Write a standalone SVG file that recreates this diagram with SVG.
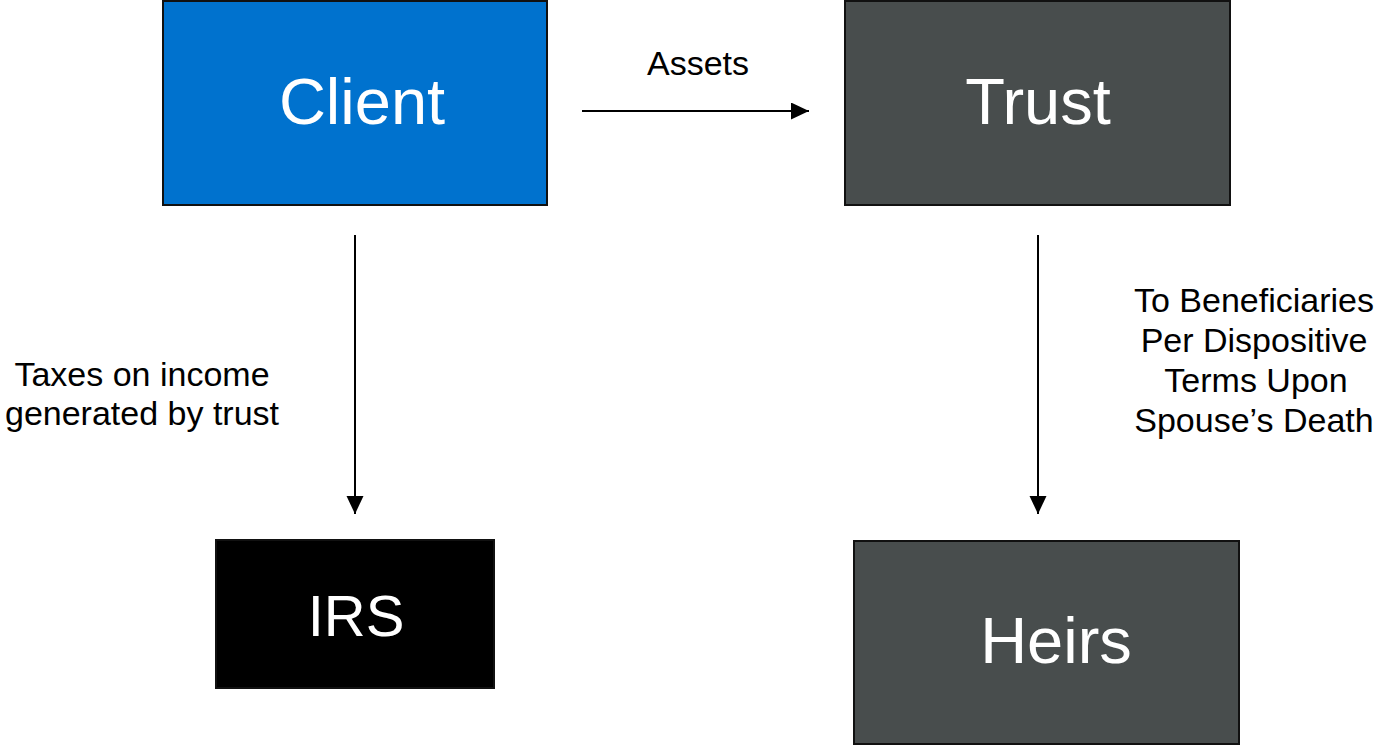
<svg xmlns="http://www.w3.org/2000/svg" width="1381" height="747" viewBox="0 0 1381 747">
  <style>
    .box { stroke: #111111; stroke-width: 2; }
    .blue { fill: #0072CE; }
    .gray { fill: #484D4D; }
    .black { fill: #000000; }
    .nlabel { font-family: "Liberation Sans", Arial, sans-serif; fill: #FFFFFF; text-anchor: middle; font-size: 65px; }
    .elabel { font-family: "Liberation Sans", Arial, sans-serif; fill: #000000; text-anchor: middle; font-size: 34px; }
    .conn { stroke: #000000; stroke-width: 2; fill: none; marker-end: url(#arrow); }
  </style>
  <defs>
    <marker id="arrow" markerUnits="userSpaceOnUse" markerWidth="18" markerHeight="18" refX="18" refY="8.5" orient="auto">
      <path d="M0,0 L18,8.5 L0,17 Z" fill="#000000"/>
    </marker>
  </defs>
  <rect width="1381" height="747" fill="#FFFFFF"/>

  <g id="client">
    <rect class="box blue" x="163" y="1" width="384" height="204"/>
    <text class="nlabel" x="362" y="124">Client</text>
  </g>
  <g id="trust">
    <rect class="box gray" x="845" y="1" width="385" height="204"/>
    <text class="nlabel" x="1038" y="124">Trust</text>
  </g>
  <g id="irs">
    <rect class="box black" x="216" y="540" width="278" height="148"/>
    <text class="nlabel" x="356" y="636" style="font-size:58px">IRS</text>
  </g>
  <g id="heirs">
    <rect class="box gray" x="854" y="541" width="385" height="203"/>
    <text class="nlabel" x="1056" y="663">Heirs</text>
  </g>

  <g id="connectors">
    <line class="conn" x1="582" y1="111" x2="809" y2="111"/>
    <line class="conn" x1="355" y1="235" x2="355" y2="514"/>
    <line class="conn" x1="1038" y1="235" x2="1038" y2="514"/>
    <text class="elabel" x="698" y="75">Assets</text>
    <text class="elabel" x="142" y="386">Taxes on income</text>
    <text class="elabel" x="142" y="425">generated by trust</text>
    <text class="elabel" x="1254" y="312">To Beneficiaries</text>
    <text class="elabel" x="1254" y="352">Per Dispositive</text>
    <text class="elabel" x="1256" y="392">Terms Upon</text>
    <text class="elabel" x="1254" y="432">Spouse’s Death</text>
  </g>
</svg>
